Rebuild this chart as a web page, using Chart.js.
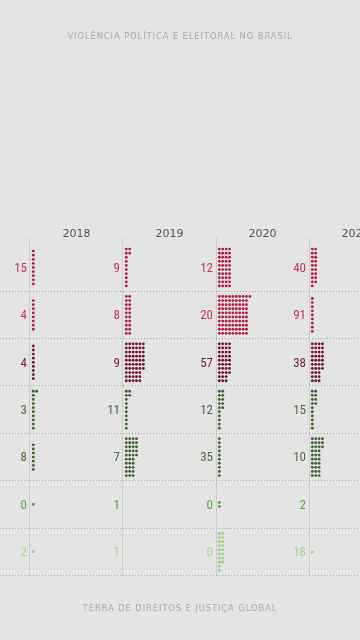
<!DOCTYPE html>
<html>
<head>
<meta charset="utf-8">
<script src="https://cdn.jsdelivr.net/npm/chart.js@4/dist/chart.umd.min.js"></script>
<style>
html,body{margin:0;padding:0;background:#e4e4e4;width:360px;height:640px;overflow:hidden;}
#wrap{position:absolute;left:0;top:0;width:360px;height:640px;}
.cap{position:absolute;left:0;width:360px;text-align:center;font-family:"DejaVu Sans",sans-serif;font-size:8.4px;color:#a9a9a9;letter-spacing:0.9px;}
#title{top:31px;}
#foot{top:603px;}
</style>
</head>
<body>
<div id="wrap"><canvas id="c" width="360" height="640"></canvas></div>
<div class="cap" id="title">VIOLÊNCIA POLÍTICA E ELEITORAL NO BRASIL</div>
<div class="cap" id="foot">TERRA DE DIREITOS E JUSTIÇA GLOBAL</div>
<script>
// ---- data ----
const years = [2017, 2018, 2019, 2020, 2021];
const yearLabels = ['2017', '2018', '2019', '2020', '2021'];
const categories = ['Categoria 1', 'Categoria 2', 'Categoria 3', 'Categoria 4', 'Categoria 5', 'Categoria 6', 'Categoria 7'];
const cat1 = [15, 9, 12, 40, 19];
const cat2 = [4, 8, 20, 91, 9];
const cat3 = [4, 9, 57, 38, 37];
const cat4 = [3, 11, 12, 15, 14];
const cat5 = [8, 7, 35, 10, 33];
const cat6 = [0, 1, 0, 2, 0];
const cat7 = [2, 1, 0, 18, 1];
const series = [cat1, cat2, cat3, cat4, cat5, cat6, cat7];

// ---- styles ----
const dotColors = ['#b2173f', '#b2173f', '#6d0f2e', '#3b5f2c', '#3b5f2c', '#4c9a38', '#9bd07c'];
const labelColors = ['#c23559', '#c23559', '#7a1a37', '#4c6a3e', '#4c6a3e', '#56a644', '#a5d68b'];
const PX_PER_YEAR = 93;
const PX_PER_ROW = 47.4;
const DOT_DX = 3.4, DOT_DY = 4.1, DOT_X0 = 3.3, PER_COL = 10;

function dotsFor(row, values) {
  const pts = [];
  values.forEach((n, yi) => {
    const rowsUsed = Math.min(n, PER_COL);
    for (let i = 0; i < n; i++) {
      const col = Math.floor(i / PER_COL), r = i % PER_COL;
      pts.push({
        x: years[yi] - 0.5 + (DOT_X0 + col * DOT_DX) / PX_PER_YEAR,
        y: row + (r - (rowsUsed - 1) / 2) * DOT_DY / PX_PER_ROW
      });
    }
  });
  return pts;
}

const datasets = series.map((vals, row) => ({
  label: categories[row],
  data: dotsFor(row, vals),
  backgroundColor: dotColors[row],
  borderWidth: 0,
  pointRadius: 1.4,
  pointHoverRadius: 1.4
}));

const textLayer = {
  id: 'textLayer',
  afterDatasetsDraw(chart) {
    const ctx = chart.ctx, xs = chart.scales.x, ys = chart.scales.y;
    ctx.save();
    // year headers
    ctx.font = '11px "DejaVu Sans", sans-serif';
    ctx.fillStyle = '#555555';
    ctx.textAlign = 'center';
    ctx.textBaseline = 'alphabetic';
    years.forEach((yr, i) => {
      ctx.fillText(yearLabels[i], xs.getPixelForValue(yr), chart.chartArea.top - 1);
    });
    // value labels
    ctx.font = '13px "Liberation Sans Narrow", "Roboto Condensed", "Arial Narrow", sans-serif';
    ctx.textAlign = 'right';
    ctx.textBaseline = 'middle';
    series.forEach((vals, row) => {
      ctx.fillStyle = labelColors[row];
      vals.forEach((v, yi) => {
        const x = xs.getPixelForValue(years[yi] + 0.5) - 3;
        const y = ys.getPixelForValue(row) + 1;
        ctx.fillText(String(v), x, y);
      });
    });
    ctx.restore();
  }
};

const X_MIN = 2018 - 76.5 / PX_PER_YEAR;
const X_MAX = 2018 + (360 - 76.5) / PX_PER_YEAR;

new Chart(document.getElementById('c'), {
  type: 'scatter',
  data: { datasets },
  options: {
    responsive: false,
    animation: false,
    events: [],
    layout: { autoPadding: false, padding: { top: 238.1, bottom: 64.4, left: 0, right: 0 } },
    plugins: { legend: { display: false }, tooltip: { enabled: false } },
    scales: {
      x: {
        type: 'linear', position: 'bottom', min: X_MIN, max: X_MAX,
        afterBuildTicks: s => { s.ticks = years.slice(0, 4).map(v => ({ value: v + 0.5 })); },
        afterFit: s => { s.height = 0; },
        ticks: { display: false },
        grid: { color: '#cbcbcb', lineWidth: 1, drawTicks: false },
        border: { display: false }
      },
      y: {
        type: 'linear', reverse: true, min: -0.62, max: 6.5,
        afterBuildTicks: s => { s.ticks = [0.5, 1.5, 2.5, 3.5, 4.5, 5.5, 6.5].map(v => ({ value: v })); },
        afterFit: s => { s.width = 0; },
        ticks: { display: false },
        grid: { color: '#a8a8a8', lineWidth: 1, drawTicks: false },
        border: { display: false, dash: [1, 2] }
      }
    }
  },
  plugins: [textLayer]
});
</script>
</body>
</html>
